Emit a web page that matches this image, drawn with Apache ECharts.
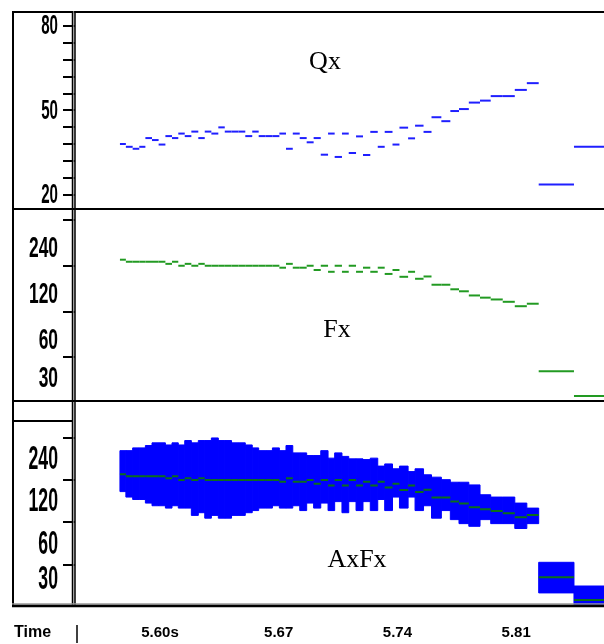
<!DOCTYPE html>
<html>
<head>
<meta charset="utf-8">
<script src="https://cdn.jsdelivr.net/npm/echarts@6/dist/echarts.min.js"></script>
<style>
    html, body { margin: 0; padding: 0; background: #fff; }
    #main { width: 604px; height: 644px; }
</style>
</head>
<body>
<div id="main"></div>
<script>
// period boundaries (s), one more than the number of periods
var periodBounds = [
    5.5764, 5.5799, 5.5839, 5.5878, 5.5914, 5.5953, 5.5992, 5.6032, 5.6071, 5.6108,
    5.6146, 5.6185, 5.6226, 5.6264, 5.6303, 5.6344, 5.6382, 5.6422, 5.6463, 5.6503,
    5.6544, 5.6582, 5.6623, 5.6663, 5.6704, 5.6743, 5.6783, 5.6824, 5.6865, 5.6906,
    5.6948, 5.6991, 5.7030, 5.7073, 5.7113, 5.7156, 5.7197, 5.7240, 5.7284, 5.7325,
    5.7371, 5.7412, 5.7463, 5.7504, 5.7554, 5.7601, 5.7659, 5.7712, 5.7763, 5.7821,
    5.7887, 5.7950, 5.8021, 5.8092, 5.8163, 5.8233, 5.8441, 5.8654
];

var qxValues = [
    38.0, 37.0, 36.3, 37.0, 40.1, 39.4, 37.8, 40.8, 40.1, 41.7,
    40.8, 42.4, 40.1, 42.4, 41.7, 43.9, 42.4, 42.4, 42.4, 40.8,
    42.4, 40.8, 40.8, 40.8, 41.7, 36.3, 41.7, 40.1, 38.6, 40.1,
    34.2, 41.7, 33.4, 41.7, 34.8, 40.7, 34.1, 42.3, 37.0, 42.3,
    37.8, 43.8, 40.0, 44.5, 42.3, 47.5, 46.1, 49.7, 50.4, 52.7,
    53.4, 55.0, 55.0, 57.2, 59.6, 23.6, 37.0
];

var fxValues = [
    263, 255, 255, 255, 255, 255, 255, 247, 255, 240,
    247, 240, 247, 240, 240, 240, 240, 240, 240, 240,
    240, 240, 240, 240, 233, 247, 233, 233, 240, 225,
    240, 219, 240, 219, 240, 219, 233, 219, 233, 212,
    225, 203, 219, 197, 204, 180, 180, 168, 163, 153,
    148, 144, 139, 130, 135, 48.5, 33.4
];

var axHigh = [
    388, 388, 406, 406, 422, 441, 441, 426, 441, 426,
    458, 441, 458, 458, 478, 458, 458, 441, 441, 426,
    406, 388, 388, 406, 388, 422, 374, 374, 358, 358,
    388, 343, 374, 353, 339, 339, 335, 343, 301, 312,
    288, 301, 275, 288, 261, 251, 241, 231, 231, 221,
    188, 181, 181, 164, 151, 62, 42
];

var axLow = [
    198, 181, 174, 174, 164, 157, 157, 151, 157, 151,
    151, 134, 140, 128, 134, 128, 128, 134, 134, 140,
    145, 151, 151, 157, 151, 151, 157, 145, 164, 151,
    164, 145, 168, 140, 168, 145, 168, 145, 174, 145,
    181, 151, 181, 145, 157, 128, 145, 125, 117, 112,
    125, 117, 117, 108, 117, 37.5, 30
];

var qxTicks = [20, 26, 32, 38, 44, 50, 56, 62, 68, 74, 80];
var qxLabels = [20, 50, 80];
var fxTicks = [60, 120, 240, 480];
var fxLabels = [30, 60, 120, 240];
var timeLabels = [5.60, 5.67, 5.74, 5.81];

var chart = echarts.init(document.getElementById('main'));

var segData = function (values) {
    var res = [];
    for (var i = 0; i < values.length; i++) {
        res.push([periodBounds[i], periodBounds[i + 1], values[i]]);
    }
    return res;
};

var barData = [];
for (var i = 0; i < axHigh.length; i++) {
    barData.push([periodBounds[i], periodBounds[i + 1], axLow[i], axHigh[i]]);
}

var renderSeg = function (params, api) {
    var p0 = api.coord([api.value(0), api.value(2)]);
    var p1 = api.coord([api.value(1), api.value(2)]);
    return {
        type: 'line',
        shape: { x1: p0[0], y1: p0[1], x2: p1[0], y2: p1[1] },
        style: { stroke: api.visual('color'), lineWidth: 2 }
    };
};

var renderBar = function (params, api) {
    var p0 = api.coord([api.value(0), api.value(3)]);
    var p1 = api.coord([api.value(1), api.value(2)]);
    return {
        type: 'rect',
        shape: { x: p0[0], y: p0[1], width: p1[0] - p0[0], height: p1[1] - p0[1] },
        style: { fill: '#0000ff', stroke: '#0000ff', lineWidth: 1 }
    };
};

var tickStyle = { color: '#000', width: 2 };

var timeAxis = function (idx, showLabels) {
    return {
        type: 'value',
        gridIndex: idx,
        min: 5.5499,
        max: 5.8618,
        axisLine: { show: false },
        axisTick: { show: false },
        splitLine: { show: false },
        axisLabel: showLabels ? {
            customValues: timeLabels,
            margin: 19,
            color: '#000',
            fontFamily: '"Liberation Sans", Arial, sans-serif',
            fontWeight: 'bold',
            fontSize: 15,
            formatter: function (v) {
                return v === 5.6 ? '5.60s' : v.toFixed(2);
            }
        } : { show: false }
    };
};

var logAxis = function (idx, max) {
    return {
        type: 'log',
        logBase: 2,
        gridIndex: idx,
        min: 30,
        max: max,
        axisLine: { show: false },
        splitLine: { show: false },
        axisTick: { length: 12, lineStyle: tickStyle, customValues: fxTicks },
        axisLabel: { show: false }
    };
};

var frameLine = function (x1, y1, x2, y2, w, color) {
    return {
        type: 'line',
        z: 100,
        shape: { x1: x1, y1: y1, x2: x2, y2: y2 },
        style: { stroke: color || '#000', lineWidth: w }
    };
};

var titleText = function (text, x, y) {
    return {
        type: 'text',
        z: 100,
        x: x,
        y: y,
        style: {
            text: text,
            fill: '#000',
            font: '26px "Liberation Serif", "Times New Roman", serif',
            align: 'center',
            verticalAlign: 'middle'
        }
    };
};

var option = {
    backgroundColor: '#fff',
    animation: false,
    grid: [
        { left: 75, top: 12, width: 529, height: 197 },
        { left: 75, top: 209, width: 529, height: 194 },
        { left: 75, top: 401, width: 529, height: 205.5 }
    ],
    xAxis: [timeAxis(0, false), timeAxis(1, false), timeAxis(2, true)],
    yAxis: [
        {
            type: 'value',
            gridIndex: 0,
            min: 14.92,
            max: 84.86,
            axisLine: { show: false },
            splitLine: { show: false },
            axisTick: { length: 12, lineStyle: tickStyle, customValues: qxTicks },
            axisLabel: { show: false }
        },
        logAxis(1, 567),
        logAxis(2, 877)
    ],
    series: [
        {
            type: 'custom',
            xAxisIndex: 0,
            yAxisIndex: 0,
            clip: true,
            color: '#1f1fff',
            renderItem: renderSeg,
            encode: { x: [0, 1], y: 2 },
            data: segData(qxValues)
        },
        {
            type: 'custom',
            xAxisIndex: 1,
            yAxisIndex: 1,
            clip: true,
            color: '#229a22',
            renderItem: renderSeg,
            encode: { x: [0, 1], y: 2 },
            data: segData(fxValues)
        },
        {
            type: 'custom',
            xAxisIndex: 2,
            yAxisIndex: 2,
            clip: true,
            renderItem: renderBar,
            encode: { x: [0, 1], y: [2, 3] },
            data: barData
        },
        {
            type: 'custom',
            xAxisIndex: 2,
            yAxisIndex: 2,
            clip: true,
            z: 3,
            color: '#0b6e1a',
            renderItem: renderSeg,
            encode: { x: [0, 1], y: 2 },
            data: segData(fxValues)
        }
    ],
    graphic: [
        frameLine(12, 12, 604, 12, 2),
        frameLine(13, 11, 13, 607, 2),
        frameLine(72.5, 11, 72.5, 607, 1.5),
        frameLine(73.8, 11, 73.8, 607, 1.2, '#999'),
        frameLine(75, 11, 75, 607, 1.5),
        frameLine(12, 209, 604, 209, 2),
        frameLine(12, 401, 604, 401, 2),
        frameLine(12, 421, 73, 421, 2),
        frameLine(12, 604, 604, 604, 1.5, '#999'),
        frameLine(12, 606, 604, 606, 2.5),
        frameLine(77, 625, 77, 643, 1.5),
        titleText('Qx', 325, 62),
        titleText('Fx', 337, 330),
        titleText('AxFx', 357, 560),
        {
            type: 'text',
            z: 100,
            x: 14,
            y: 633,
            style: {
                text: 'Time',
                fill: '#000',
                font: 'bold 16px "Liberation Sans", Arial, sans-serif',
                verticalAlign: 'middle'
            }
        }
    ]
};

chart.setOption(option);

// tick labels: tall narrow digits, placed with the axes' own scales
var axisText = function (v, y, valign, size, sx) {
    return {
        type: 'text',
        z: 100,
        x: 58,
        y: y,
        scaleX: sx,
        style: {
            text: String(v),
            fill: '#000',
            font: 'bold ' + size + 'px "Liberation Sans", Arial, sans-serif',
            align: 'right',
            verticalAlign: valign
        }
    };
};

var labels = [];
qxLabels.forEach(function (v) {
    labels.push(axisText(v, chart.convertToPixel({ yAxisIndex: 0 }, v) + 1, 'middle', 27, 0.56));
});
fxLabels.forEach(function (v) {
    var y = Math.min(chart.convertToPixel({ yAxisIndex: 1 }, v) - 2, 394);
    labels.push(axisText(v, y, 'bottom', 30, 0.58));
});
fxLabels.forEach(function (v) {
    var y = Math.min(chart.convertToPixel({ yAxisIndex: 2 }, v) - 3, 597);
    labels.push(axisText(v, y, 'bottom', 34, 0.52));
});

chart.setOption({ graphic: option.graphic.concat(labels) });
</script>
</body>
</html>
